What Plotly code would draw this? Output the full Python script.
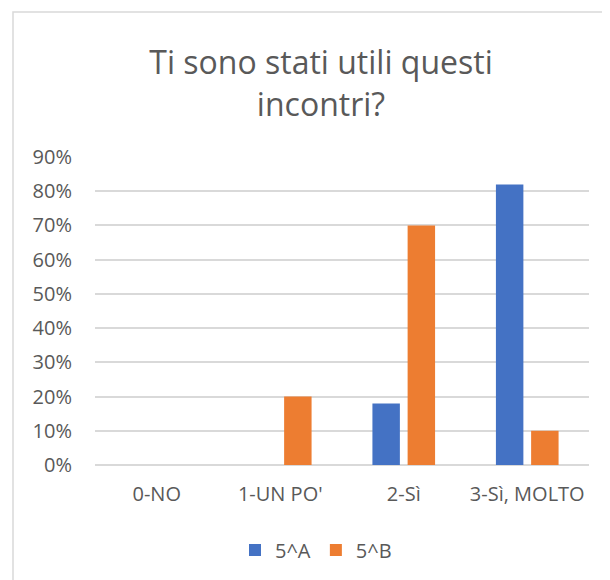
import plotly.graph_objects as go

categories = ["0-NO", "1-UN PO'", "2-Sì", "3-Sì, MOLTO"]
series_a_name = "5^A"
series_a = [0.0, 0.0, 0.18, 0.82]
series_b_name = "5^B"
series_b = [0.0, 0.20, 0.70, 0.10]
y_ticks = [0, 0.1, 0.2, 0.3, 0.4, 0.5, 0.6, 0.7, 0.8, 0.9]
y_tick_labels = ["0%", "10%", "20%", "30%", "40%", "50%", "60%", "70%", "80%", "90%"]
title_text = "Ti sono stati utili questi<br>incontri?"

# page body has an 8px margin, so the figure is sized/positioned accordingly
W, H = 602, 572
L, R, T, B = 87, 21, 149, 115
pw, ph = W - L - R, H - T - B

FONT = "'Open Sans', sans-serif"
GREY = "#595959"

fig = go.Figure()
fig.add_trace(go.Bar(x=categories, y=series_a, name=series_a_name,
                     marker=dict(color="#4472C4", line=dict(width=0))))
fig.add_trace(go.Bar(x=categories, y=series_b, name=series_b_name,
                     marker=dict(color="#ED7D31", line=dict(width=0))))


def px_x(p):
    return (p - L) / pw


def px_y(p):
    return (H - B - p) / ph


fig.update_layout(
    width=W, height=H,
    margin=dict(l=L, r=R, t=T, b=B, autoexpand=False),
    paper_bgcolor="white", plot_bgcolor="white",
    barmode="group", bargap=0.43, bargroupgap=0.22,
    font=dict(family=FONT, color=GREY, size=20),
    title=dict(text=title_text, xref="container", x=313 / W, xanchor="center",
               yref="container", y=1 - 66 / H, yanchor="middle",
               font=dict(family=FONT, size=32, color=GREY)),
    legend=dict(orientation="h", xref="container", x=308 / W, xanchor="center",
                yref="container", y=1 - 542 / H, yanchor="middle",
                font=dict(family=FONT, size=20, color=GREY),
                itemwidth=30, traceorder="normal"),
    xaxis=dict(showgrid=False, showline=False, zeroline=False, ticks="",
               tickfont=dict(family=FONT, size=20, color=GREY),
               ticklabelstandoff=15),
    yaxis=dict(range=[0, 0.9], tickvals=y_ticks, ticktext=y_tick_labels,
               showgrid=True, gridcolor="#d9d9d9", gridwidth=1.5,
               zeroline=True, zerolinecolor="#d9d9d9", zerolinewidth=1.5,
               showline=False, ticks="", ticklabelstandoff=22,
               tickfont=dict(family=FONT, size=20, color=GREY)),
    shapes=[dict(type="rect", xref="paper", yref="paper",
                 x0=px_x(5), x1=px_x(640), y0=px_y(620), y1=px_y(4),
                 line=dict(color="#d9d9d9", width=1.5), layer="below")],
    showlegend=True,
)

fig.write_html("out.html")
